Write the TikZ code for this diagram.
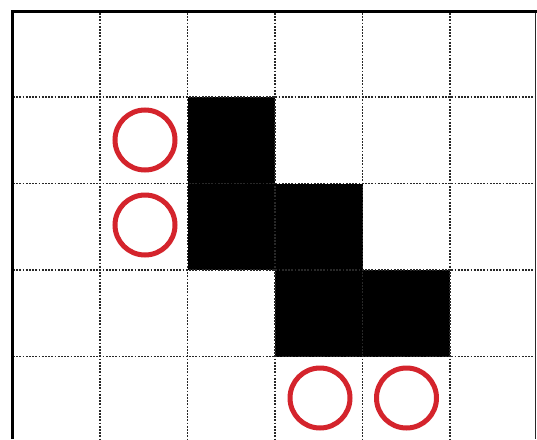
\documentclass[tikz,border=0pt]{standalone}
\definecolor{ringred}{RGB}{212,36,44}
\definecolor{gridgray}{RGB}{40,40,40}
\tikzset{
  gridline/.style={draw=gridgray,line width=1.1pt,dash pattern=on 1.7pt off 1.5pt},
  cellfill/.style={fill=black},
  ring/.style={draw=ringred,line width=5pt},
  border/.style={draw=black,line width=3pt}
}
\begin{document}
\begin{tikzpicture}[x=1pt,y=-1pt]
\useasboundingbox (0,0) rectangle (537,439);
\fill[white] (0,0) rectangle (537,439);
% black cells
\fill[cellfill] (187.5,97) rectangle (275,270);
\fill[cellfill] (275,183.5) rectangle (362.5,356.5);
\fill[cellfill] (362.5,270) rectangle (450,356.5);
% grid
\foreach \x in {100,187.5,275,362.5,450}
  \draw[gridline] (\x,13) -- (\x,439);
\foreach \y in {97,183.5,270,356.5}
  \draw[gridline] (13,\y) -- (537,\y);
% right edge
\draw[draw=gridgray,line width=0.8pt] (535,12) -- (535,439);
% borders
\draw[border] (12.5,439) -- (12.5,11.5) -- (537,11.5);
% rings
\draw[ring] (145,140) circle (30);
\draw[ring] (145,225) circle (30);
\draw[ring] (320,398) circle (30);
\draw[ring] (406.5,398) circle (30);
\end{tikzpicture}
\end{document}
